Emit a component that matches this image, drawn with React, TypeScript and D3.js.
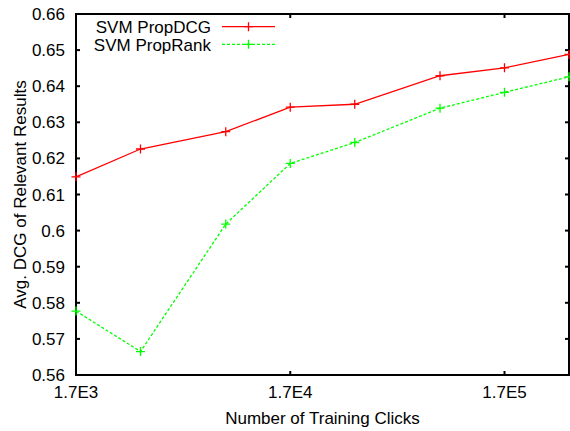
import React, { useEffect, useRef } from 'react'
import * as d3 from 'd3'

// training clicks (x) and avg DCG values for each method
const clicks = [1700, 3400, 8500, 17000, 34000, 85000, 170000, 340000]
const propDCG = [0.6149, 0.6226, 0.6274, 0.6342, 0.635, 0.6429, 0.6451, 0.6488]
const propRank = [0.5777, 0.5665, 0.6018, 0.6186, 0.6244, 0.6339, 0.6383, 0.6426]

const yTicks = [0.56, 0.57, 0.58, 0.59, 0.6, 0.61, 0.62, 0.63, 0.64, 0.65, 0.66]
const yTickLabels = ['0.56', '0.57', '0.58', '0.59', '0.6', '0.61', '0.62', '0.63', '0.64', '0.65', '0.66']
const xTicks = [1700, 17000, 170000]
const xTickLabels = ['1.7E3', '1.7E4', '1.7E5']

const seriesNames = ['SVM PropDCG', 'SVM PropRank']
const seriesColors = ['#ff0000', '#00ff00']

const App: React.FC = () => {
  const svgRef = useRef<SVGSVGElement | null>(null)

  useEffect(() => {
    if (!svgRef.current) return
    const svg = d3.select(svgRef.current)
    svg.selectAll('*').remove()

    const width = 570
    const height = 431
    const left = 76
    const right = 569
    const top = 14
    const bottom = 375
    const font = '"Liberation Sans", Arial, sans-serif'

    svg.attr('width', width).attr('height', height)

    const x = d3.scaleLog().domain([1700, 340000]).range([left, right])
    const y = d3.scaleLinear().domain([0.56, 0.66]).range([bottom, top])

    // ticks (inward, both sides)
    const tickLen = 4
    const g = svg.append('g')
    yTicks.forEach((t, i) => {
      g.append('line')
        .attr('x1', left).attr('x2', left + tickLen)
        .attr('y1', y(t)).attr('y2', y(t))
        .attr('stroke', '#000').attr('stroke-width', 2)
      g.append('line')
        .attr('x1', right).attr('x2', right - tickLen)
        .attr('y1', y(t)).attr('y2', y(t))
        .attr('stroke', '#000').attr('stroke-width', 2)
      g.append('text')
        .attr('x', 65)
        .attr('y', y(t) + 6)
        .attr('text-anchor', 'end')
        .attr('font-family', font)
        .attr('font-size', 17)
        .text(yTickLabels[i])
    })
    xTicks.forEach((t, i) => {
      g.append('line')
        .attr('x1', x(t)).attr('x2', x(t))
        .attr('y1', bottom).attr('y2', bottom - tickLen)
        .attr('stroke', '#000').attr('stroke-width', 2)
      g.append('line')
        .attr('x1', x(t)).attr('x2', x(t))
        .attr('y1', top).attr('y2', top + tickLen)
        .attr('stroke', '#000').attr('stroke-width', 2)
      g.append('text')
        .attr('x', x(t))
        .attr('y', 398)
        .attr('text-anchor', 'middle')
        .attr('font-family', font)
        .attr('font-size', 17)
        .text(xTickLabels[i])
    })

    // frame
    svg.append('rect')
      .attr('x', left).attr('y', top)
      .attr('width', right - left).attr('height', bottom - top)
      .attr('fill', 'none').attr('stroke', '#000').attr('stroke-width', 2)

    // axis titles
    svg.append('text')
      .attr('x', (left + right) / 2)
      .attr('y', 424)
      .attr('text-anchor', 'middle')
      .attr('font-family', font)
      .attr('font-size', 17)
      .text('Number of Training Clicks')
    svg.append('text')
      .attr('transform', `translate(26,${(top + bottom) / 2}) rotate(-90)`)
      .attr('text-anchor', 'middle')
      .attr('font-family', font)
      .attr('font-size', 17)
      .text('Avg. DCG of Relevant Results')

    const line = d3.line<[number, number]>()
      .x((d) => x(d[0]))
      .y((d) => y(d[1]))

    const plus = (sel: d3.Selection<SVGGElement, unknown, null, undefined>, cx: number, cy: number, color: string) => {
      const s = 4.5
      sel.append('path')
        .attr('d', `M${cx - s},${cy}H${cx + s}M${cx},${cy - s}V${cy + s}`)
        .attr('stroke', color).attr('stroke-width', 1.3).attr('fill', 'none')
    }

    const series = [propDCG, propRank]
    series.forEach((vals, si) => {
      const pts: [number, number][] = clicks.map((c, i) => [c, vals[i]])
      const sg = svg.append('g')
      sg.append('path')
        .attr('d', line(pts))
        .attr('fill', 'none')
        .attr('stroke', seriesColors[si])
        .attr('stroke-width', 1.3)
        .attr('stroke-dasharray', si === 1 ? '3,2' : null)
      pts.forEach((p) => plus(sg as any, x(p[0]), y(p[1]), seriesColors[si]))

      // legend
      const ly = 26.7 + si * 17.6
      sg.append('text')
        .attr('x', 211)
        .attr('y', ly + 6.3)
        .attr('text-anchor', 'end')
        .attr('font-family', font)
        .attr('font-size', 17)
        .text(seriesNames[si])
      sg.append('line')
        .attr('x1', 222).attr('x2', 275)
        .attr('y1', ly).attr('y2', ly)
        .attr('stroke', seriesColors[si])
        .attr('stroke-width', 1.3)
        .attr('stroke-dasharray', si === 1 ? '3,2' : null)
      plus(sg as any, 248.5, ly, seriesColors[si])
    })
  }, [])

  return (
    <svg ref={svgRef} style={{ position: 'absolute', left: 0, top: 0, background: '#fff' }}></svg>
  )
}

export default App
